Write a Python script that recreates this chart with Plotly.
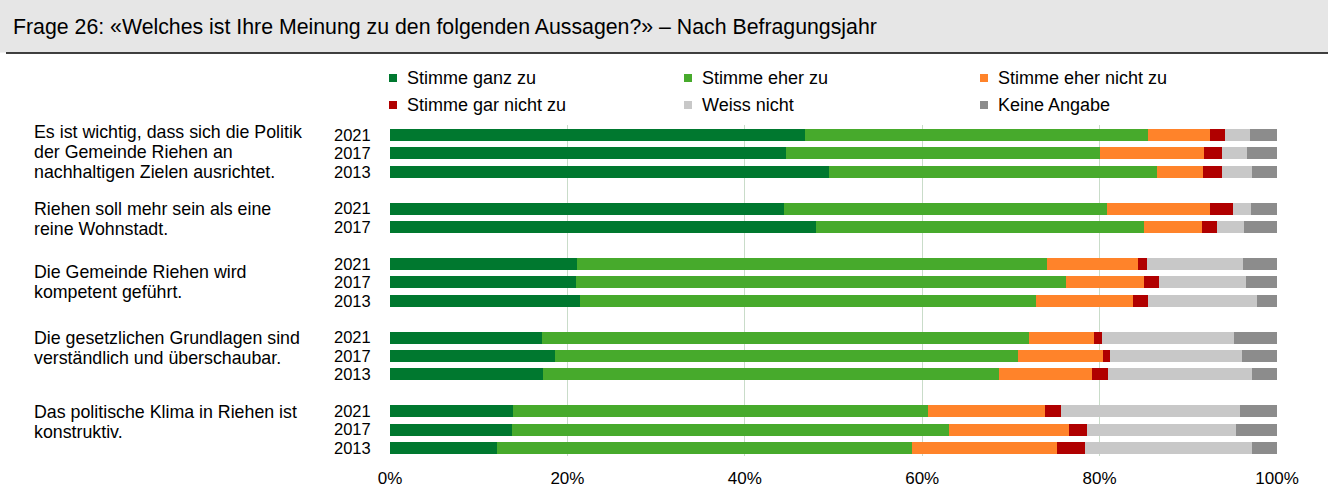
import plotly.graph_objects as go

# ---------------- data ----------------
statements = [
    ["Es ist wichtig, dass sich die Politik", "der Gemeinde Riehen an", "nachhaltigen Zielen ausrichtet."],
    ["Riehen soll mehr sein als eine", "reine Wohnstadt."],
    ["Die Gemeinde Riehen wird", "kompetent geführt."],
    ["Die gesetzlichen Grundlagen sind", "verständlich und überschaubar."],
    ["Das politische Klima in Riehen ist", "konstruktiv."],
]
years = [
    ["2021", "2017", "2013"],
    ["2021", "2017"],
    ["2021", "2017", "2013"],
    ["2021", "2017", "2013"],
    ["2021", "2017", "2013"],
]
series_names = ["Stimme ganz zu", "Stimme eher zu", "Stimme eher nicht zu",
                "Stimme gar nicht zu", "Weiss nicht", "Keine Angabe"]
ganz_zu       = [46.8, 44.7, 49.5, 44.4, 48.0, 21.1, 21.0, 21.4, 17.1, 18.6, 17.2, 13.9, 13.8, 12.1]
eher_zu       = [38.7, 35.3, 37.0, 36.4, 37.0, 53.0, 55.2, 51.4, 54.9, 52.2, 51.5, 46.8, 49.2, 46.7]
eher_nicht_zu = [7.0, 11.8, 5.2, 11.7, 6.5, 10.2, 8.8, 11.0, 7.4, 9.6, 10.4, 13.2, 13.5, 16.4]
gar_nicht_zu  = [1.6, 2.0, 2.1, 2.5, 1.7, 1.0, 1.7, 1.7, 0.9, 0.8, 1.9, 1.8, 2.1, 3.1]
weiss_nicht   = [2.9, 2.8, 3.4, 2.1, 3.1, 10.9, 9.8, 12.2, 14.9, 14.9, 16.2, 20.1, 16.8, 18.9]
keine_angabe  = [3.0, 3.4, 2.8, 2.9, 3.7, 3.8, 3.5, 2.3, 4.8, 3.9, 2.8, 4.2, 4.6, 2.8]
x_ticks = [0, 20, 40, 60, 80, 100]
title_text = "Frage 26: «Welches ist Ihre Meinung zu den folgenden Aussagen?» – Nach Befragungsjahr"

# ---------------- style ----------------
colors = ["#00782F", "#47AA2C", "#FF832A", "#B00000", "#C8C8C8", "#8C8C8C"]
FONT = "Liberation Sans, Arial, sans-serif"
W, H = 1328, 490
L, R, T, B = 390, 51, 125, 34
PW, PH = W - L - R, H - T - B

def px_x(px):
    return (px - L) / PW

def px_y(py):
    return (H - B - py) / PH

# row positions: groups separated by one blank row
row_pos, row_lab, group_first = [], [], []
pos = 0
for g in years:
    group_first.append(pos)
    for yr in g:
        row_pos.append(pos)
        row_lab.append(yr)
        pos += 1
    pos += 1

values = [ganz_zu, eher_zu, eher_nicht_zu, gar_nicht_zu, weiss_nicht, keine_angabe]

fig = go.Figure()
for name, vals, col in zip(series_names, values, colors):
    fig.add_trace(go.Bar(
        x=vals, y=row_pos, orientation="h", name=name,
        marker=dict(color=col, line=dict(width=0)),
        width=0.65, showlegend=False,
        hovertemplate=name + ": %{x:.1f}%<extra></extra>",
    ))

annotations = []
shapes = []

# header band
shapes.append(dict(type="rect", xref="paper", yref="paper",
                   x0=px_x(0), x1=px_x(W), y0=px_y(52.5), y1=px_y(0),
                   fillcolor="#E6E6E6", line=dict(width=0), layer="below"))
shapes.append(dict(type="line", xref="paper", yref="paper",
                   x0=px_x(6), x1=px_x(W), y0=px_y(53), y1=px_y(53),
                   line=dict(color="black", width=1.5)))
annotations.append(dict(text=title_text, xref="paper", yref="paper",
                        x=px_x(11), y=px_y(27), xanchor="left", yanchor="middle",
                        showarrow=False, font=dict(family=FONT, size=21.3, color="black")))

# manual legend (3 columns x 2 rows)
leg_cols = [389, 684, 980]
leg_rows = [78, 105]
for i, (name, col) in enumerate(zip(series_names, colors)):
    cx = leg_cols[i % 3]
    cy = leg_rows[i // 3]
    shapes.append(dict(type="rect", xref="paper", yref="paper",
                       x0=px_x(cx), x1=px_x(cx + 8), y0=px_y(cy + 4), y1=px_y(cy - 4),
                       fillcolor=col, line=dict(width=0)))
    annotations.append(dict(text=name, xref="paper", yref="paper",
                            x=px_x(cx + 16), y=px_y(cy), xanchor="left", yanchor="middle",
                            showarrow=False, font=dict(family=FONT, size=18, color="black")))

# statement labels
label_shift = [-0.18, 0.03, 0.46, 0.0, 0.03]
line_step = 1.09
for lines, first, sh in zip(statements, group_first, label_shift):
    for k, ln in enumerate(lines):
        annotations.append(dict(text=ln, xref="paper", yref="y",
                                x=px_x(32), y=first + sh + k * line_step,
                                xanchor="left", yanchor="middle", showarrow=False,
                                font=dict(family=FONT, size=17.8, color="black")))

fig.update_layout(
    barmode="stack",
    width=W, height=H,
    margin=dict(l=L, r=R, t=T, b=B, pad=0, autoexpand=False),
    paper_bgcolor="white", plot_bgcolor="white",
    font=dict(family=FONT, size=16, color="black"),
    bargap=0.35,
    shapes=shapes, annotations=annotations,
    showlegend=False,
)
fig.update_xaxes(range=[0, 100], tickvals=x_ticks, ticktext=[f"{v}%" for v in x_ticks],
                 showgrid=True, gridcolor="#C9DCC9", gridwidth=1.3,
                 zeroline=False, showline=False, automargin=False,
                 ticks="outside", ticklen=7, tickcolor="rgba(0,0,0,0)",
                 tickfont=dict(family=FONT, size=17, color="black"))
fig.update_yaxes(range=[17.43, -0.54], tickvals=row_pos, ticktext=row_lab,
                 showgrid=False, zeroline=False, showline=False, automargin=False,
                 ticks="outside", ticklen=15, tickcolor="rgba(0,0,0,0)",
                 tickfont=dict(family=FONT, size=16.5, color="black"))

fig.write_html("out.html", config={"displayModeBar": False},
               post_script="document.body.style.margin='0';document.body.style.overflow='hidden';")
